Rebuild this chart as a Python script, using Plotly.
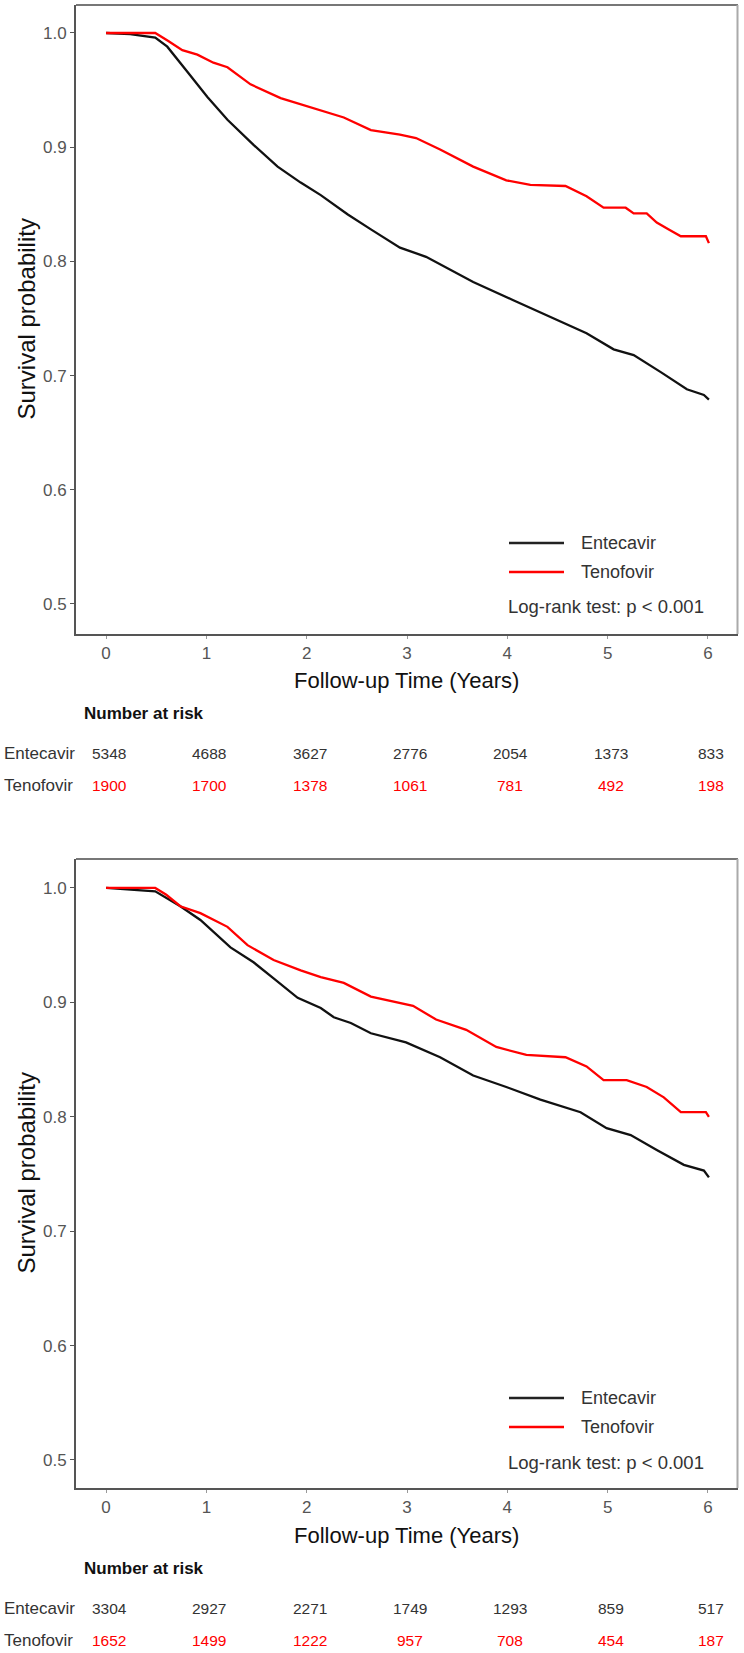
import plotly.graph_objects as go

W, H = 744, 1653

# ---------------- data ----------------
years = [0, 1, 2, 3, 4, 5, 6]
groups = ["Entecavir", "Tenofovir"]

# Panel A
a_ent_t = [0, 0.24, 0.49, 0.61, 0.81, 1.01, 1.21, 1.47, 1.71, 1.94, 2.14, 2.41, 2.64,
           2.93, 3.19, 3.66, 4.06, 4.53, 4.79, 5.06, 5.26, 5.53, 5.79, 5.96, 6.01]
a_ent_s = [1.0, 0.999, 0.996, 0.988, 0.966, 0.944, 0.924, 0.902, 0.883, 0.869, 0.858, 0.841, 0.828,
           0.812, 0.804, 0.782, 0.766, 0.747, 0.737, 0.723, 0.718, 0.703, 0.688, 0.683, 0.679]
a_ten_t = [0, 0.49, 0.62, 0.76, 0.91, 1.07, 1.21, 1.44, 1.74, 2.11, 2.37, 2.64, 2.93, 3.09,
           3.33, 3.66, 3.99, 4.23, 4.58, 4.79, 4.96, 5.18, 5.26, 5.39, 5.49, 5.61, 5.73, 5.98, 6.01]
a_ten_s = [1.0, 1.0, 0.993, 0.985, 0.981, 0.974, 0.970, 0.955, 0.943, 0.933, 0.926, 0.915, 0.911, 0.908,
           0.898, 0.883, 0.871, 0.867, 0.866, 0.857, 0.847, 0.847, 0.842, 0.842, 0.834, 0.828, 0.822, 0.822, 0.816]
a_risk_ent = [5348, 4688, 3627, 2776, 2054, 1373, 833]
a_risk_ten = [1900, 1700, 1378, 1061, 781, 492, 198]

# Panel B
b_ent_t = [0, 0.49, 0.74, 0.94, 1.24, 1.47, 1.67, 1.91, 2.14, 2.27, 2.44, 2.64, 2.99,
           3.33, 3.66, 3.99, 4.33, 4.73, 4.99, 5.23, 5.49, 5.76, 5.96, 6.01]
b_ent_s = [1.0, 0.997, 0.984, 0.972, 0.948, 0.935, 0.921, 0.904, 0.895, 0.887, 0.882, 0.873, 0.865,
           0.852, 0.836, 0.826, 0.815, 0.804, 0.790, 0.784, 0.771, 0.758, 0.753, 0.747]
b_ten_t = [0, 0.49, 0.60, 0.74, 0.94, 1.21, 1.41, 1.67, 1.94, 2.14, 2.37, 2.64, 3.06, 3.29,
           3.59, 3.89, 4.19, 4.58, 4.79, 4.96, 5.19, 5.39, 5.56, 5.73, 5.98, 6.01]
b_ten_s = [1.0, 1.0, 0.994, 0.984, 0.978, 0.966, 0.950, 0.937, 0.928, 0.922, 0.917, 0.905, 0.897, 0.885,
           0.876, 0.861, 0.854, 0.852, 0.844, 0.832, 0.832, 0.826, 0.817, 0.804, 0.804, 0.800]
b_risk_ent = [3304, 2927, 2271, 1749, 1293, 859, 517]
b_risk_ten = [1652, 1499, 1222, 957, 708, 454, 187]

y_ticks = [0.5, 0.6, 0.7, 0.8, 0.9, 1.0]
y_tick_text = ["0.5", "0.6", "0.7", "0.8", "0.9", "1.0"]
x_title = "Follow-up Time (Years)"
y_title = "Survival probability"
pval_text = "Log-rank test: p < 0.001"

# ---------------- style ----------------
RED = "#FF0000"
FONT = "Liberation Sans, Arial, sans-serif"


def px(x):
    return x / W


def py(y):
    return 1 - y / H


fig = go.Figure()

panels = [
    dict(ent=(a_ent_t, a_ent_s), ten=(a_ten_t, a_ten_s), risk=(a_risk_ent, a_risk_ten),
         xa="x", ya="y", top=5, bottom=634, yr=[0.4737, 1.0245],
         xtitle=680, leg=(543, 572, 607), nar=713, rows=(753, 785)),
    dict(ent=(b_ent_t, b_ent_s), ten=(b_ten_t, b_ten_s), risk=(b_risk_ent, b_risk_ten),
         xa="x2", ya="y2", top=859, bottom=1488, yr=[0.4755, 1.0253],
         xtitle=1535, leg=(1398, 1427, 1462), nar=1568, rows=(1608, 1640)),
]

shapes = []
annotations = []
x_dom = [px(76), px(738)]

for i, p in enumerate(panels):
    fig.add_trace(go.Scatter(x=p["ent"][0], y=p["ent"][1], mode="lines", name=groups[0],
                             line=dict(color="#111111", width=2.3), xaxis=p["xa"], yaxis=p["ya"],
                             showlegend=False))
    fig.add_trace(go.Scatter(x=p["ten"][0], y=p["ten"][1], mode="lines", name=groups[1],
                             line=dict(color=RED, width=2.3), xaxis=p["xa"], yaxis=p["ya"],
                             showlegend=False))
    xkey = "xaxis" if i == 0 else "xaxis2"
    ykey = "yaxis" if i == 0 else "yaxis2"
    fig.update_layout({
        xkey: dict(domain=x_dom, range=[-0.3, 6.3], tickvals=years, ticktext=[str(v) for v in years],
                   showgrid=False, zeroline=False, showline=True, linecolor="#555555", linewidth=2,
                   ticks="outside", ticklen=3, tickwidth=1, tickcolor="#999999",
                   tickfont=dict(family=FONT, size=17, color="#555555"),
                   anchor=p["ya"]),
        ykey: dict(domain=[py(p["bottom"]), py(p["top"])], range=p["yr"], tickvals=y_ticks,
                   ticktext=y_tick_text, showgrid=False, zeroline=False, showline=True,
                   linecolor="#555555", linewidth=2, ticks="outside", ticklen=4, tickwidth=1,
                   tickcolor="#555555", tickfont=dict(family=FONT, size=17, color="#555555"),
                   anchor=p["xa"]),
    })
    # top & right frame lines
    shapes.append(dict(type="line", xref="paper", yref="paper", x0=px(76), x1=px(738),
                       y0=py(p["top"]), y1=py(p["top"]), line=dict(color="#777777", width=2)))
    shapes.append(dict(type="line", xref="paper", yref="paper", x0=px(737.5), x1=px(737.5),
                       y0=py(p["top"]), y1=py(p["bottom"]), line=dict(color="#aaaaaa", width=2)))
    # axis titles
    annotations.append(dict(text=x_title, x=px(407), y=py(p["xtitle"]), xref="paper", yref="paper",
                            showarrow=False, xanchor="center", yanchor="middle",
                            font=dict(family=FONT, size=22, color="#111111")))
    annotations.append(dict(text=y_title, x=px(26), y=py((p["top"] + p["bottom"]) / 2), xref="paper",
                            yref="paper", showarrow=False, textangle=-90, xanchor="center",
                            yanchor="middle", font=dict(family=FONT, size=24, color="#111111")))
    # legend
    ly1, ly2, ly3 = p["leg"]
    for yy, col, name in [(ly1, "#222222", groups[0]), (ly2, RED, groups[1])]:
        shapes.append(dict(type="line", xref="paper", yref="paper", x0=px(509), x1=px(564),
                           y0=py(yy), y1=py(yy), line=dict(color=col, width=2.5)))
        annotations.append(dict(text=name, x=px(579), y=py(yy), xref="paper", yref="paper",
                                showarrow=False, xanchor="left", yanchor="middle",
                                font=dict(family=FONT, size=18, color="#333333")))
    annotations.append(dict(text=pval_text, x=px(506), y=py(ly3), xref="paper", yref="paper",
                            showarrow=False, xanchor="left", yanchor="middle",
                            font=dict(family=FONT, size=18.5, color="#333333")))
    # risk table
    annotations.append(dict(text="<b>Number at risk</b>", x=px(82), y=py(p["nar"]), xref="paper",
                            yref="paper", showarrow=False, xanchor="left", yanchor="middle",
                            font=dict(family=FONT, size=17, color="#111111")))
    for r, (yy, col) in enumerate(zip(p["rows"], ["#333333", RED])):
        annotations.append(dict(text=groups[r], x=px(2), y=py(yy), xref="paper", yref="paper",
                                showarrow=False, xanchor="left", yanchor="middle",
                                font=dict(family=FONT, size=17, color="#333333")))
        for t, v in zip(years, p["risk"][r]):
            annotations.append(dict(text=str(v), x=t, y=py(yy), xref=p["xa"], yref="paper",
                                    xshift=3, showarrow=False, xanchor="center", yanchor="middle",
                                    font=dict(family=FONT, size=15.5, color=col)))

fig.update_layout(width=W, height=H, margin=dict(l=0, r=0, t=0, b=0),
                  paper_bgcolor="white", plot_bgcolor="white", showlegend=False,
                  shapes=shapes, annotations=annotations)

fig.write_html("out.html", config={"displayModeBar": False},
               post_script="document.body.style.margin='0';document.body.style.padding='0';"
                           "document.body.style.overflow='hidden';")
